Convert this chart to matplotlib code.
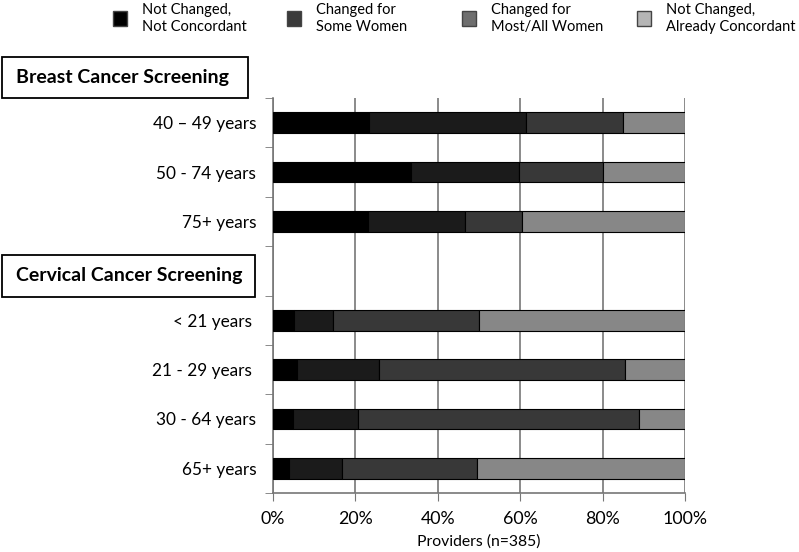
import numpy as np
import matplotlib.pyplot as plt
from matplotlib.patches import Rectangle

plt.rcParams['font.family'] = ['Lato', 'DejaVu Sans']

# row labels, top to bottom ('' = spacer row next to the cervical header)
rows = ['40 \u2013 49 years', '50 - 74 years', '75+ years', '',
        '< 21 years ', '21 - 29 years ', '30 - 64 years', '65+ years']

not_changed_not_conc = [23.3, 33.5, 23.0, 0, 5.2, 5.8, 4.8, 4.0]
changed_some = [38.1, 26.1, 23.5, 0, 9.4, 19.9, 15.8, 12.8]
changed_most = [23.5, 20.4, 14.0, 0, 35.4, 59.8, 68.3, 32.8]
already_conc = [15.1, 20.0, 39.5, 0, 50.0, 14.5, 11.1, 50.4]

series = [not_changed_not_conc, changed_some, changed_most, already_conc]
names = ['Not Changed,\nNot Concordant', 'Changed for\nSome Women',
         'Changed for\nMost/All Women', 'Not Changed,\nAlready Concordant']
bar_colors = ['#000000', '#1b1b1b', '#383838', '#878787']
legend_colors = ['#000000', '#3a3a3a', '#6e6e6e', '#b5b5b5']

W, H = 799, 552
fig = plt.figure(figsize=(W / 100, H / 100), dpi=100)
ax = fig.add_axes([273 / W, 1 - 493 / H, 412 / W, (493 - 98) / H])

y = np.arange(len(rows))
left = np.zeros(len(rows))
for vals, c in zip(series, bar_colors):
    vals = np.array(vals)
    mask = vals > 0
    ax.barh(y[mask], vals[mask], left=left[mask], height=0.42, color=c,
            edgecolor='black', linewidth=0.8, zorder=3)
    left += vals

ax.set_xlim(0, 100)
ax.set_ylim(len(rows) - 0.5, -0.5)
ax.set_xticks([0, 20, 40, 60, 80, 100])
ax.set_xticklabels(['0%', '20%', '40%', '60%', '80%', '100%'], fontsize=12.8)
ax.xaxis.grid(True, color='#777777', linewidth=1.2, zorder=0)
ax.tick_params(axis='x', length=6, color='#777777', pad=7)

ax.set_yticks(y)
ax.set_yticklabels(rows, fontsize=12.4)
ax.tick_params(axis='y', which='major', length=0, pad=12)
ax.set_yticks(np.arange(-0.5, len(rows)), minor=True)
ax.tick_params(axis='y', which='minor', length=6, color='#777777')

for s in ['top', 'right']:
    ax.spines[s].set_visible(False)
for s in ['left', 'bottom']:
    ax.spines[s].set_color('#777777')
    ax.spines[s].set_linewidth(1.2)

ax.set_xlabel('Providers (n=385)', fontsize=11.3, labelpad=5)

# section headers in boxes (pixel boxes converted to figure fractions)
headers = [('Breast Cancer Screening', 57, 98, 248),
           ('Cervical Cancer Screening', 255, 297, 255)]
for txt, top, bot, right in headers:
    fig.patches.append(Rectangle((1.5 / W, 1 - bot / H), (right - 1.5) / W, (bot - top) / H,
                                 transform=fig.transFigure, facecolor='white',
                                 edgecolor='black', linewidth=1.3))
    fig.text(16 / W, 1 - (top + bot) / 2 / H, txt, fontsize=14, fontweight='bold',
             ha='left', va='center')

# legend across the top
legend_x = [113, 287, 462, 637]
for x0, c, name in zip(legend_x, legend_colors, names):
    fig.patches.append(Rectangle((x0 / W, 1 - 26 / H), 14 / W, 15 / H,
                                 transform=fig.transFigure, facecolor=c,
                                 edgecolor='#444444', linewidth=1.0))
    fig.text((x0 + 29) / W, 1 - 18.5 / H, name, fontsize=10.5, ha='left', va='center',
             linespacing=1.35)

fig.savefig('out.png', dpi=100)
